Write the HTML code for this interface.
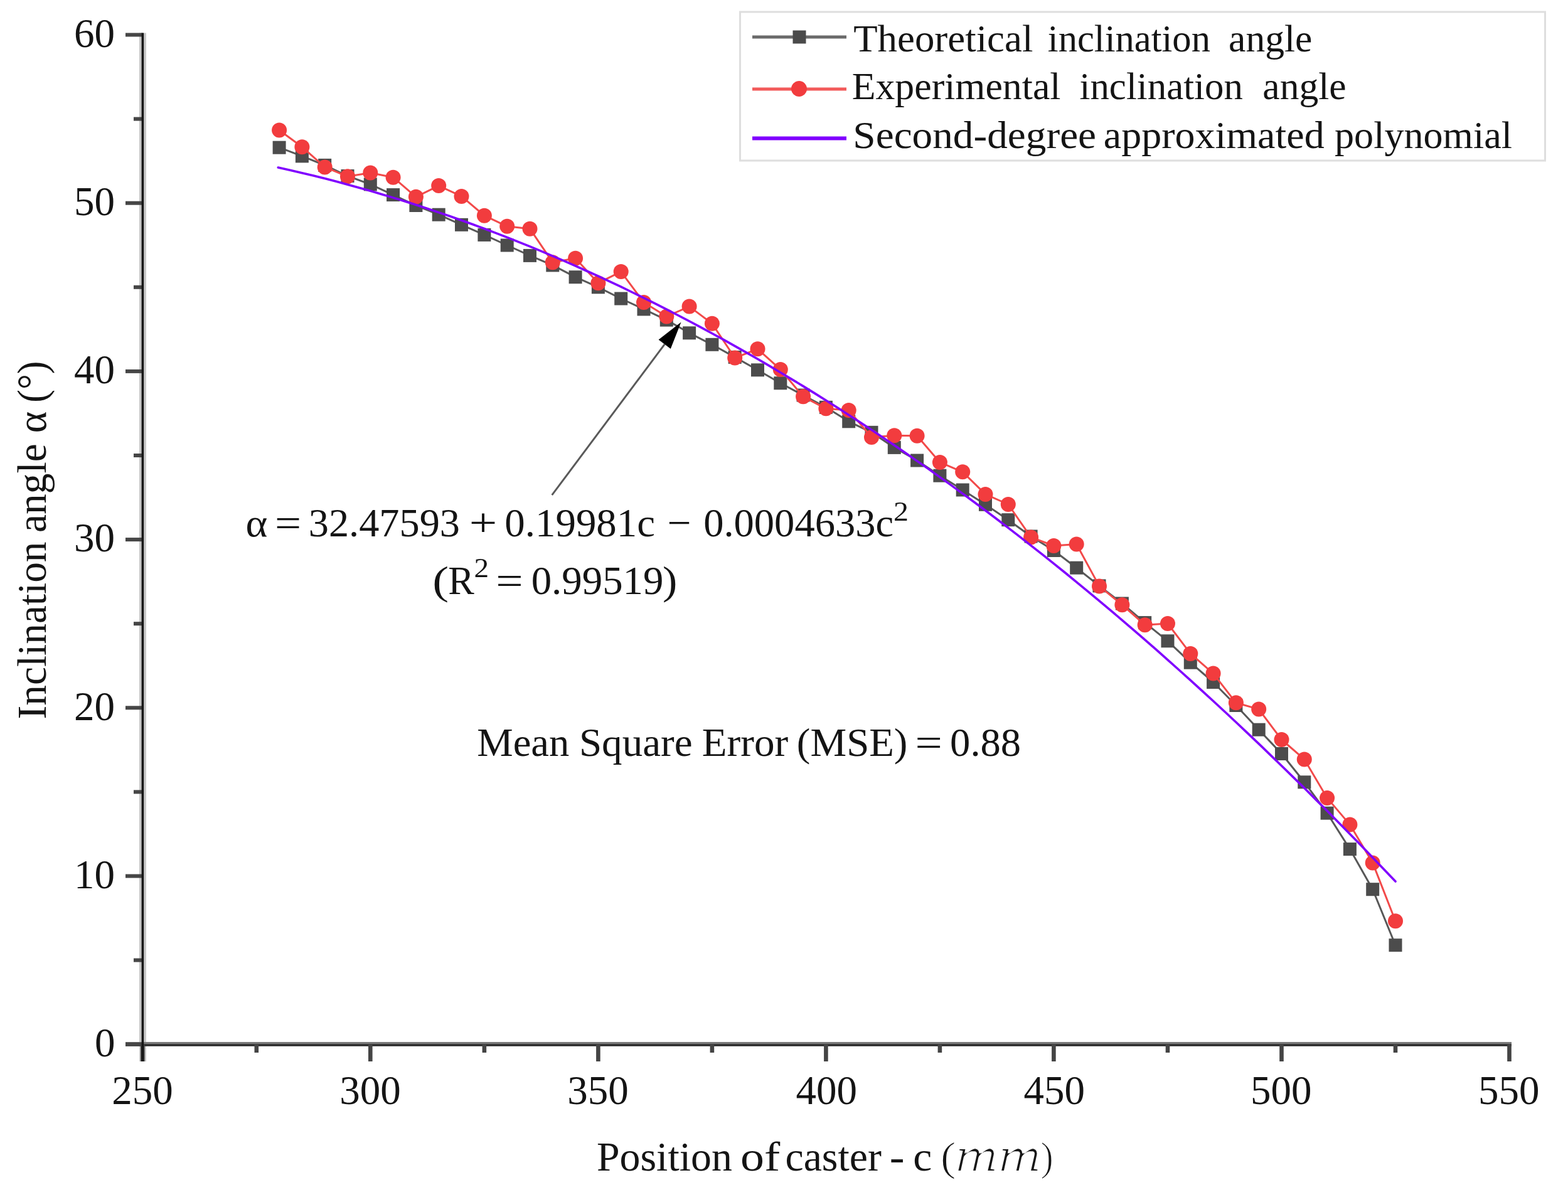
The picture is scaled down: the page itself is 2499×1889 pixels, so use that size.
<!DOCTYPE html>
<html><head><meta charset="utf-8"><title>Inclination angle vs position of caster</title>
<style>
html,body{margin:0;padding:0;background:#fff;overflow:hidden;width:2499px;height:1889px;}
svg{display:block;}
text{font-family:"Liberation Serif","Times New Roman",serif;fill:#141414;}
</style></head>
<body>
<svg width="2499" height="1889" viewBox="0 0 2499 1889">
<defs><filter id="thin" x="-5%" y="-5%" width="110%" height="110%"><feMorphology operator="erode" radius="1.7 0.3"/></filter>
<filter id="thin2" x="-5%" y="-5%" width="110%" height="110%"><feMorphology operator="erode" radius="1.3 0.2"/></filter></defs>
<rect x="0" y="0" width="2499" height="1889" fill="#fff"/>
<rect x="222" y="52.5" width="11" height="1639.5" fill="#c8c8c8"/>
<rect x="200" y="1661" width="2209" height="3.3" fill="#7a7a7a"/>
<rect x="200" y="1664.2" width="2209" height="3.6" fill="#2a2a2a"/>
<rect x="200" y="1661.7" width="27" height="6" fill="#464646"/>
<rect x="213" y="1527.6" width="14" height="6" fill="#464646"/>
<rect x="200" y="1393.5" width="27" height="6" fill="#464646"/>
<rect x="213" y="1259.4" width="14" height="6" fill="#464646"/>
<rect x="200" y="1125.3" width="27" height="6" fill="#464646"/>
<rect x="213" y="991.2" width="14" height="6" fill="#464646"/>
<rect x="200" y="857.1" width="27" height="6" fill="#464646"/>
<rect x="213" y="723.0" width="14" height="6" fill="#464646"/>
<rect x="200" y="588.9" width="27" height="6" fill="#464646"/>
<rect x="213" y="454.8" width="14" height="6" fill="#464646"/>
<rect x="200" y="320.7" width="27" height="6" fill="#464646"/>
<rect x="213" y="186.6" width="14" height="6" fill="#464646"/>
<rect x="200" y="52.5" width="27" height="6" fill="#464646"/>
<rect x="224.0" y="1664" width="6.6" height="28" fill="#444"/>
<rect x="405.5" y="1664" width="6.6" height="14" fill="#444"/>
<rect x="587.0" y="1664" width="6.6" height="28" fill="#444"/>
<rect x="768.6" y="1664" width="6.6" height="14" fill="#444"/>
<rect x="950.1" y="1664" width="6.6" height="28" fill="#444"/>
<rect x="1131.6" y="1664" width="6.6" height="14" fill="#444"/>
<rect x="1313.1" y="1664" width="6.6" height="28" fill="#444"/>
<rect x="1494.6" y="1664" width="6.6" height="14" fill="#444"/>
<rect x="1676.1" y="1664" width="6.6" height="28" fill="#444"/>
<rect x="1857.7" y="1664" width="6.6" height="14" fill="#444"/>
<rect x="2039.2" y="1664" width="6.6" height="28" fill="#444"/>
<rect x="2220.7" y="1664" width="6.6" height="14" fill="#444"/>
<rect x="2402.2" y="1664" width="6.6" height="28" fill="#444"/>
<rect x="225.6" y="52.5" width="3.6" height="1639.5" fill="#161616"/>
<text x="151.00" y="1684.00" font-size="65" textLength="32.50" lengthAdjust="spacingAndGlyphs">0</text>
<text x="118.00" y="1415.80" font-size="65" textLength="65.00" lengthAdjust="spacingAndGlyphs">10</text>
<text x="118.00" y="1147.60" font-size="65" textLength="65.00" lengthAdjust="spacingAndGlyphs">20</text>
<text x="118.00" y="879.40" font-size="65" textLength="65.00" lengthAdjust="spacingAndGlyphs">30</text>
<text x="118.00" y="611.20" font-size="65" textLength="65.00" lengthAdjust="spacingAndGlyphs">40</text>
<text x="118.00" y="343.00" font-size="65" textLength="65.00" lengthAdjust="spacingAndGlyphs">50</text>
<text x="118.00" y="74.80" font-size="65" textLength="65.00" lengthAdjust="spacingAndGlyphs">60</text>
<text x="178.30" y="1759.50" font-size="65" textLength="97.50" lengthAdjust="spacingAndGlyphs">250</text>
<text x="541.34" y="1759.50" font-size="65" textLength="97.50" lengthAdjust="spacingAndGlyphs">300</text>
<text x="904.37" y="1759.50" font-size="65" textLength="97.50" lengthAdjust="spacingAndGlyphs">350</text>
<text x="1268.40" y="1759.50" font-size="65" textLength="97.50" lengthAdjust="spacingAndGlyphs">400</text>
<text x="1631.44" y="1759.50" font-size="65" textLength="97.50" lengthAdjust="spacingAndGlyphs">450</text>
<text x="1992.97" y="1759.50" font-size="65" textLength="97.50" lengthAdjust="spacingAndGlyphs">500</text>
<text x="2356.01" y="1759.50" font-size="65" textLength="97.50" lengthAdjust="spacingAndGlyphs">550</text>
<g transform="translate(72.8,0) rotate(-90)">
<text x="-1146.41" y="0.00" font-size="65" textLength="282.91" lengthAdjust="spacingAndGlyphs">Inclination</text>
<text x="-849.02" y="0.00" font-size="65" textLength="141.90" lengthAdjust="spacingAndGlyphs">angle</text>
<text x="-690.33" y="0.00" font-size="65" textLength="34.50" lengthAdjust="spacingAndGlyphs">α</text>
<text x="-641.76" y="0.00" font-size="65" textLength="66.05" lengthAdjust="spacingAndGlyphs">(°)</text>
</g>
<polyline points="445.1,235.2 481.4,248.9 517.7,263.4 554.0,280.5 590.3,293.9 626.6,310.6 662.9,327.5 699.2,342.2 735.5,358.3 771.9,374.4 808.2,391.0 844.5,407.4 880.8,422.9 917.1,441.7 953.4,457.8 989.7,476.0 1026.0,492.9 1062.3,510.1 1098.6,530.8 1134.9,549.3 1171.2,569.4 1207.5,589.8 1243.8,610.7 1280.1,630.0 1316.4,649.3 1352.7,671.8 1389.0,689.3 1425.3,713.4 1461.6,734.0 1497.9,758.2 1534.2,781.0 1570.5,804.3 1606.8,828.7 1643.1,855.0 1679.4,877.5 1715.7,905.2 1752.0,933.9 1788.4,962.0 1824.7,992.6 1861.0,1021.8 1897.3,1056.2 1933.6,1087.5 1969.9,1124.5 2006.2,1163.2 2042.5,1201.5 2078.8,1246.8 2115.1,1296.2 2151.4,1353.6 2187.7,1417.7 2224.0,1506.7" fill="none" stroke="#585858" stroke-width="3" stroke-linejoin="round"/>
<rect x="434.6" y="224.7" width="21" height="21" fill="#4c4c4c"/>
<rect x="470.9" y="238.4" width="21" height="21" fill="#4c4c4c"/>
<rect x="507.2" y="252.9" width="21" height="21" fill="#4c4c4c"/>
<rect x="543.5" y="270.0" width="21" height="21" fill="#4c4c4c"/>
<rect x="579.8" y="283.4" width="21" height="21" fill="#4c4c4c"/>
<rect x="616.1" y="300.1" width="21" height="21" fill="#4c4c4c"/>
<rect x="652.4" y="317.0" width="21" height="21" fill="#4c4c4c"/>
<rect x="688.7" y="331.7" width="21" height="21" fill="#4c4c4c"/>
<rect x="725.0" y="347.8" width="21" height="21" fill="#4c4c4c"/>
<rect x="761.4" y="363.9" width="21" height="21" fill="#4c4c4c"/>
<rect x="797.7" y="380.5" width="21" height="21" fill="#4c4c4c"/>
<rect x="834.0" y="396.9" width="21" height="21" fill="#4c4c4c"/>
<rect x="870.3" y="412.4" width="21" height="21" fill="#4c4c4c"/>
<rect x="906.6" y="431.2" width="21" height="21" fill="#4c4c4c"/>
<rect x="942.9" y="447.3" width="21" height="21" fill="#4c4c4c"/>
<rect x="979.2" y="465.5" width="21" height="21" fill="#4c4c4c"/>
<rect x="1015.5" y="482.4" width="21" height="21" fill="#4c4c4c"/>
<rect x="1051.8" y="499.6" width="21" height="21" fill="#4c4c4c"/>
<rect x="1088.1" y="520.3" width="21" height="21" fill="#4c4c4c"/>
<rect x="1124.4" y="538.8" width="21" height="21" fill="#4c4c4c"/>
<rect x="1160.7" y="558.9" width="21" height="21" fill="#4c4c4c"/>
<rect x="1197.0" y="579.3" width="21" height="21" fill="#4c4c4c"/>
<rect x="1233.3" y="600.2" width="21" height="21" fill="#4c4c4c"/>
<rect x="1269.6" y="619.5" width="21" height="21" fill="#4c4c4c"/>
<rect x="1305.9" y="638.8" width="21" height="21" fill="#4c4c4c"/>
<rect x="1342.2" y="661.3" width="21" height="21" fill="#4c4c4c"/>
<rect x="1378.5" y="678.8" width="21" height="21" fill="#4c4c4c"/>
<rect x="1414.8" y="702.9" width="21" height="21" fill="#4c4c4c"/>
<rect x="1451.1" y="723.5" width="21" height="21" fill="#4c4c4c"/>
<rect x="1487.4" y="747.7" width="21" height="21" fill="#4c4c4c"/>
<rect x="1523.7" y="770.5" width="21" height="21" fill="#4c4c4c"/>
<rect x="1560.0" y="793.8" width="21" height="21" fill="#4c4c4c"/>
<rect x="1596.3" y="818.2" width="21" height="21" fill="#4c4c4c"/>
<rect x="1632.6" y="844.5" width="21" height="21" fill="#4c4c4c"/>
<rect x="1668.9" y="867.0" width="21" height="21" fill="#4c4c4c"/>
<rect x="1705.2" y="894.7" width="21" height="21" fill="#4c4c4c"/>
<rect x="1741.5" y="923.4" width="21" height="21" fill="#4c4c4c"/>
<rect x="1777.9" y="951.5" width="21" height="21" fill="#4c4c4c"/>
<rect x="1814.2" y="982.1" width="21" height="21" fill="#4c4c4c"/>
<rect x="1850.5" y="1011.3" width="21" height="21" fill="#4c4c4c"/>
<rect x="1886.8" y="1045.7" width="21" height="21" fill="#4c4c4c"/>
<rect x="1923.1" y="1077.0" width="21" height="21" fill="#4c4c4c"/>
<rect x="1959.4" y="1114.0" width="21" height="21" fill="#4c4c4c"/>
<rect x="1995.7" y="1152.7" width="21" height="21" fill="#4c4c4c"/>
<rect x="2032.0" y="1191.0" width="21" height="21" fill="#4c4c4c"/>
<rect x="2068.3" y="1236.3" width="21" height="21" fill="#4c4c4c"/>
<rect x="2104.6" y="1285.7" width="21" height="21" fill="#4c4c4c"/>
<rect x="2140.9" y="1343.1" width="21" height="21" fill="#4c4c4c"/>
<rect x="2177.2" y="1407.2" width="21" height="21" fill="#4c4c4c"/>
<rect x="2213.5" y="1496.2" width="21" height="21" fill="#4c4c4c"/>
<polyline points="445.1,207.5 481.4,234.2 517.7,266.4 554.0,281.3 590.3,275.5 626.6,282.7 662.9,313.8 699.2,296.1 735.5,312.9 771.9,343.7 808.2,360.8 844.5,364.7 880.8,418.2 917.1,411.8 953.4,451.2 989.7,433.1 1026.0,481.9 1062.3,504.5 1098.6,488.6 1134.9,515.8 1171.2,570.5 1207.5,556.3 1243.8,588.9 1280.1,632.3 1316.4,651.3 1352.7,654.0 1389.0,697.0 1425.3,694.3 1461.6,694.7 1497.9,736.9 1534.2,752.3 1570.5,787.9 1606.8,804.0 1643.1,856.4 1679.4,870.0 1715.7,867.5 1752.0,934.4 1788.4,964.2 1824.7,996.2 1861.0,994.0 1897.3,1041.9 1933.6,1073.6 1969.9,1120.3 2006.2,1130.6 2042.5,1179.0 2078.8,1210.4 2115.1,1271.9 2151.4,1314.6 2187.7,1375.4 2224.0,1468.3" fill="none" stroke="#f24a4a" stroke-width="3" stroke-linejoin="round"/>
<circle cx="445.1" cy="207.5" r="12" fill="#f23c3e"/>
<circle cx="481.4" cy="234.2" r="12" fill="#f23c3e"/>
<circle cx="517.7" cy="266.4" r="12" fill="#f23c3e"/>
<circle cx="554.0" cy="281.3" r="12" fill="#f23c3e"/>
<circle cx="590.3" cy="275.5" r="12" fill="#f23c3e"/>
<circle cx="626.6" cy="282.7" r="12" fill="#f23c3e"/>
<circle cx="662.9" cy="313.8" r="12" fill="#f23c3e"/>
<circle cx="699.2" cy="296.1" r="12" fill="#f23c3e"/>
<circle cx="735.5" cy="312.9" r="12" fill="#f23c3e"/>
<circle cx="771.9" cy="343.7" r="12" fill="#f23c3e"/>
<circle cx="808.2" cy="360.8" r="12" fill="#f23c3e"/>
<circle cx="844.5" cy="364.7" r="12" fill="#f23c3e"/>
<circle cx="880.8" cy="418.2" r="12" fill="#f23c3e"/>
<circle cx="917.1" cy="411.8" r="12" fill="#f23c3e"/>
<circle cx="953.4" cy="451.2" r="12" fill="#f23c3e"/>
<circle cx="989.7" cy="433.1" r="12" fill="#f23c3e"/>
<circle cx="1026.0" cy="481.9" r="12" fill="#f23c3e"/>
<circle cx="1062.3" cy="504.5" r="12" fill="#f23c3e"/>
<circle cx="1098.6" cy="488.6" r="12" fill="#f23c3e"/>
<circle cx="1134.9" cy="515.8" r="12" fill="#f23c3e"/>
<circle cx="1171.2" cy="570.5" r="12" fill="#f23c3e"/>
<circle cx="1207.5" cy="556.3" r="12" fill="#f23c3e"/>
<circle cx="1243.8" cy="588.9" r="12" fill="#f23c3e"/>
<circle cx="1280.1" cy="632.3" r="12" fill="#f23c3e"/>
<circle cx="1316.4" cy="651.3" r="12" fill="#f23c3e"/>
<circle cx="1352.7" cy="654.0" r="12" fill="#f23c3e"/>
<circle cx="1389.0" cy="697.0" r="12" fill="#f23c3e"/>
<circle cx="1425.3" cy="694.3" r="12" fill="#f23c3e"/>
<circle cx="1461.6" cy="694.7" r="12" fill="#f23c3e"/>
<circle cx="1497.9" cy="736.9" r="12" fill="#f23c3e"/>
<circle cx="1534.2" cy="752.3" r="12" fill="#f23c3e"/>
<circle cx="1570.5" cy="787.9" r="12" fill="#f23c3e"/>
<circle cx="1606.8" cy="804.0" r="12" fill="#f23c3e"/>
<circle cx="1643.1" cy="856.4" r="12" fill="#f23c3e"/>
<circle cx="1679.4" cy="870.0" r="12" fill="#f23c3e"/>
<circle cx="1715.7" cy="867.5" r="12" fill="#f23c3e"/>
<circle cx="1752.0" cy="934.4" r="12" fill="#f23c3e"/>
<circle cx="1788.4" cy="964.2" r="12" fill="#f23c3e"/>
<circle cx="1824.7" cy="996.2" r="12" fill="#f23c3e"/>
<circle cx="1861.0" cy="994.0" r="12" fill="#f23c3e"/>
<circle cx="1897.3" cy="1041.9" r="12" fill="#f23c3e"/>
<circle cx="1933.6" cy="1073.6" r="12" fill="#f23c3e"/>
<circle cx="1969.9" cy="1120.3" r="12" fill="#f23c3e"/>
<circle cx="2006.2" cy="1130.6" r="12" fill="#f23c3e"/>
<circle cx="2042.5" cy="1179.0" r="12" fill="#f23c3e"/>
<circle cx="2078.8" cy="1210.4" r="12" fill="#f23c3e"/>
<circle cx="2115.1" cy="1271.9" r="12" fill="#f23c3e"/>
<circle cx="2151.4" cy="1314.6" r="12" fill="#f23c3e"/>
<circle cx="2187.7" cy="1375.4" r="12" fill="#f23c3e"/>
<circle cx="2224.0" cy="1468.3" r="12" fill="#f23c3e"/>
<polyline points="443.3,267.0 463.3,271.5 481.4,275.7 499.6,280.1 517.7,284.6 535.9,289.3 554.0,294.2 572.2,299.2 590.3,304.3 608.5,309.7 626.6,315.1 644.8,320.8 662.9,326.5 681.1,332.5 699.2,338.6 717.4,344.8 735.5,351.2 753.7,357.8 771.9,364.5 790.0,371.4 808.2,378.4 826.3,385.6 844.5,392.9 862.6,400.4 880.8,408.1 898.9,415.9 917.1,423.8 935.2,432.0 953.4,440.2 971.5,448.7 989.7,457.2 1007.8,466.0 1026.0,474.9 1044.1,483.9 1062.3,493.1 1080.4,502.5 1098.6,512.0 1116.7,521.6 1134.9,531.5 1153.0,541.4 1171.2,551.6 1189.3,561.9 1207.5,572.3 1225.6,582.9 1243.8,593.7 1261.9,604.6 1280.1,615.6 1298.3,626.9 1316.4,638.2 1334.6,649.8 1352.7,661.5 1370.9,673.3 1389.0,685.3 1407.2,697.5 1425.3,709.8 1443.5,722.2 1461.6,734.9 1479.8,747.6 1497.9,760.6 1516.1,773.6 1534.2,786.9 1552.4,800.3 1570.5,813.8 1588.7,827.5 1606.8,841.4 1625.0,855.4 1643.1,869.6 1661.3,883.9 1679.4,898.4 1697.6,913.0 1715.7,927.8 1733.9,942.8 1752.0,957.9 1770.2,973.1 1788.4,988.6 1806.5,1004.1 1824.7,1019.8 1842.8,1035.7 1861.0,1051.8 1879.1,1068.0 1897.3,1084.3 1915.4,1100.8 1933.6,1117.5 1951.7,1134.3 1969.9,1151.2 1988.0,1168.4 2006.2,1185.6 2024.3,1203.1 2042.5,1220.7 2060.6,1238.4 2078.8,1256.3 2096.9,1274.4 2115.1,1292.6 2133.2,1310.9 2151.4,1329.5 2169.5,1348.1 2187.7,1367.0 2205.8,1386.0 2224.0,1405.1" fill="none" stroke="#8000ff" stroke-width="3.6" stroke-linejoin="round" stroke-linecap="round"/>
<line x1="879.7" y1="789.2" x2="1059.2" y2="548.8" stroke="#5a5a5a" stroke-width="3"/>
<polygon points="1085.5,513.5 1068.8,555.9 1049.6,541.6" fill="#000"/>
<rect x="1179.5" y="19" width="1283" height="237" fill="#fff" stroke="#dedede" stroke-width="3"/>
<line x1="1199" y1="59" x2="1349" y2="59" stroke="#6a6a6a" stroke-width="5"/>
<rect x="1263.5" y="48.5" width="21" height="21" fill="#4a4a4a"/>
<line x1="1199" y1="142" x2="1349" y2="142" stroke="#f25a5a" stroke-width="5"/>
<circle cx="1273.5" cy="141.5" r="12.5" fill="#f23c3e"/>
<line x1="1199" y1="220.6" x2="1349" y2="220.6" stroke="#8000ff" stroke-width="6"/>
<text x="1360.19" y="82.20" font-size="62" textLength="286.21" lengthAdjust="spacingAndGlyphs">Theoretical</text>
<text x="1669.82" y="82.20" font-size="62" textLength="259.12" lengthAdjust="spacingAndGlyphs">inclination</text>
<text x="1958.11" y="82.20" font-size="62" textLength="133.34" lengthAdjust="spacingAndGlyphs">angle</text>
<text x="1357.71" y="158.00" font-size="62" textLength="332.77" lengthAdjust="spacingAndGlyphs">Experimental</text>
<text x="1720.52" y="158.00" font-size="62" textLength="260.33" lengthAdjust="spacingAndGlyphs">inclination</text>
<text x="2012.31" y="158.00" font-size="62" textLength="133.34" lengthAdjust="spacingAndGlyphs">angle</text>
<text x="1359.39" y="236.00" font-size="62" textLength="387.71" lengthAdjust="spacingAndGlyphs">Second-degree</text>
<text x="1758.84" y="236.00" font-size="62" textLength="351.88" lengthAdjust="spacingAndGlyphs">approximated</text>
<text x="2127.00" y="236.00" font-size="62" textLength="283.03" lengthAdjust="spacingAndGlyphs">polynomial</text>
<text x="391.62" y="855.00" font-size="64" textLength="34.87" lengthAdjust="spacingAndGlyphs">α</text>
<text x="437.90" y="855.00" font-size="64" textLength="42.11" lengthAdjust="spacingAndGlyphs">=</text>
<text x="491.78" y="855.00" font-size="64" textLength="241.23" lengthAdjust="spacingAndGlyphs">32.47593</text>
<text x="747.70" y="855.00" font-size="64" textLength="44.52" lengthAdjust="spacingAndGlyphs">+</text>
<text x="804.37" y="855.00" font-size="64" textLength="239.65" lengthAdjust="spacingAndGlyphs">0.19981c</text>
<text x="1063.54" y="855.00" font-size="64" textLength="38.02" lengthAdjust="spacingAndGlyphs">−</text>
<text x="1121.18" y="855.00" font-size="64" textLength="302.93" lengthAdjust="spacingAndGlyphs">0.0004633c</text>
<text x="1423.97" y="829.50" font-size="45" textLength="24.00" lengthAdjust="spacingAndGlyphs">2</text>
<text x="689.36" y="946.50" font-size="64" textLength="25.84" lengthAdjust="spacingAndGlyphs">(</text>
<text x="714.15" y="946.50" font-size="64" textLength="41.54" lengthAdjust="spacingAndGlyphs">R</text>
<text x="755.40" y="919.50" font-size="45" textLength="23.62" lengthAdjust="spacingAndGlyphs">2</text>
<text x="790.39" y="946.50" font-size="64" textLength="43.43" lengthAdjust="spacingAndGlyphs">=</text>
<text x="846.67" y="946.50" font-size="64" textLength="210.77" lengthAdjust="spacingAndGlyphs">0.99519</text>
<text x="1055.91" y="946.50" font-size="64" textLength="23.32" lengthAdjust="spacingAndGlyphs">)</text>
<text x="760.18" y="1205.30" font-size="64" textLength="147.15" lengthAdjust="spacingAndGlyphs">Mean</text>
<text x="922.93" y="1205.30" font-size="64" textLength="180.72" lengthAdjust="spacingAndGlyphs">Square</text>
<text x="1118.76" y="1205.30" font-size="64" textLength="137.47" lengthAdjust="spacingAndGlyphs">Error</text>
<text x="1269.86" y="1205.30" font-size="64" textLength="176.59" lengthAdjust="spacingAndGlyphs">(MSE)</text>
<text x="1458.60" y="1205.30" font-size="64" textLength="43.31" lengthAdjust="spacingAndGlyphs">=</text>
<text x="1514.08" y="1205.30" font-size="64" textLength="113.04" lengthAdjust="spacingAndGlyphs">0.88</text>
<text x="950.97" y="1866.30" font-size="65" textLength="215.87" lengthAdjust="spacingAndGlyphs">Position</text>
<text x="1179.97" y="1866.30" font-size="65" textLength="63.22" lengthAdjust="spacingAndGlyphs">of</text>
<text x="1251.48" y="1866.30" font-size="65" textLength="153.39" lengthAdjust="spacingAndGlyphs">caster</text>
<text x="1417.70" y="1866.30" font-size="65" textLength="23.82" lengthAdjust="spacingAndGlyphs">-</text>
<text x="1455.22" y="1866.30" font-size="65" textLength="30.01" lengthAdjust="spacingAndGlyphs">c</text>
<text x="1498.51" y="1866.30" font-size="65" textLength="25.22" lengthAdjust="spacingAndGlyphs" filter="url(#thin2)">(</text>
<text x="1522.04" y="1866.30" font-size="74" font-style="italic" textLength="137.58" lengthAdjust="spacingAndGlyphs" filter="url(#thin)">mm</text>
<text x="1658.04" y="1866.30" font-size="65" textLength="21.27" lengthAdjust="spacingAndGlyphs" filter="url(#thin2)">)</text>
</svg>
</body></html>
